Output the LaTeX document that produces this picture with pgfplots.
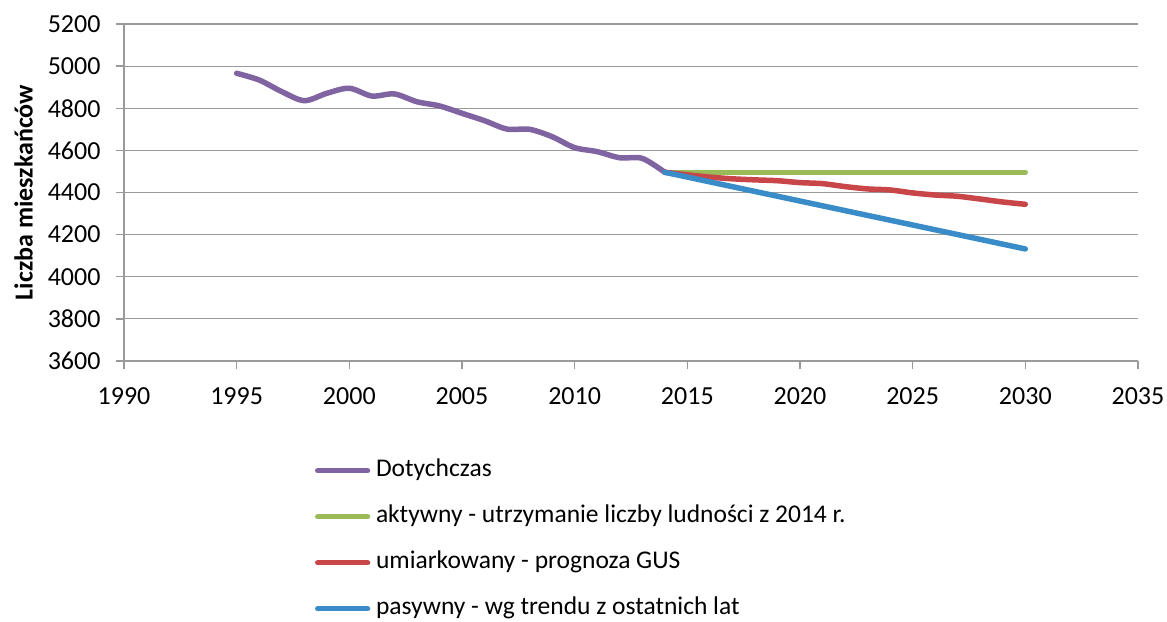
\documentclass[border=0pt]{standalone}
\usepackage{pgfplots}
\pgfplotsset{compat=1.18}
\usepackage{fontspec}
\setmainfont{Carlito}
\definecolor{cpurple}{HTML}{8064A2}
\definecolor{cgreen}{HTML}{9BBB59}
\definecolor{cred}{HTML}{C84548}
\definecolor{cblue}{HTML}{3A8CC8}
\definecolor{cgrid}{HTML}{9A9A9A}
\newcommand{\tickfont}{\fontsize{26bp}{30bp}\selectfont}
\newcommand{\legfont}{\fontsize{25.5bp}{30bp}\selectfont}
\pgfplotstableread{
year val
1995 4966
1996 4934
1997 4879
1998 4836
1999 4871
2000 4895
2001 4858
2002 4868
2003 4831
2004 4811
2005 4776
2006 4741
2007 4701
2008 4700
2009 4665
2010 4613
2011 4594
2012 4565
2013 4562
2014 4496
}\dotych
\pgfplotstableread{
year val
2014 4496
2030 4496
}\aktywny
\pgfplotstableread{
year val
2014 4496
2015 4484
2016 4473
2017 4465
2018 4460
2019 4456
2020 4447
2021 4442
2022 4428
2023 4417
2024 4412
2025 4398
2026 4388
2027 4382
2028 4369
2029 4355
2030 4344
}\umiark
\pgfplotstableread{
year val
2014 4496
2030 4132
}\pasywny
\begin{document}
\begin{tikzpicture}
\useasboundingbox (-124bp,-261bp) rectangle (1043bp,361bp);
\begin{axis}[
  at={(0,0)}, anchor=south west,
  scale only axis, width=1014bp, height=337bp,
  xmin=1990, xmax=2035, ymin=3600, ymax=5200,
  xtick={1990,1995,...,2035}, ytick={3600,3800,...,5200},
  axis x line*=bottom, axis y line*=left,
  axis line style={cgrid, line width=1.3bp},
  ymajorgrids, major grid style={cgrid, line width=1.2bp},
  tick align=outside, major tick length=8bp,
  tick style={cgrid, line width=1.3bp},
  font=\tickfont,
  ticklabel style={font=\tickfont},
  label style={font=\tickfont},
  /pgf/number format/assume math mode=true,
  /pgf/number format/1000 sep={},
  yticklabel style={xshift=-12bp},
  xticklabel style={yshift=-15bp},
  ylabel={\bfseries Liczba mieszkańców},
  ylabel style={at={(axis description cs:-0.0991,0.5)}, anchor=center},
  legend cell align=left,
  legend style={at={(axis description cs:0.1884,-0.290)}, anchor=north west,
    draw=none, fill=none, inner sep=0pt, outer sep=0pt, row sep=22bp, column sep=0pt,
    nodes={inner sep=0pt, text height=18bp, text depth=6bp},
    font=\legfont},
  legend image code/.code={\path[draw=none,fill=none] (0bp,-12bp) rectangle (61bp,12bp); \draw[#1, line width=5.5bp, line cap=round] (2.75bp,0bp) -- (52.5bp,0bp);},
  every axis plot/.append style={line width=5.5bp, line cap=round, line join=round},
]
\addplot[cpurple, smooth, tension=0.5] table[x=year,y=val] {\dotych};
\addlegendentry{Dotychczas}
\addplot[cgreen] table[x=year,y=val] {\aktywny};
\addlegendentry{aktywny - utrzymanie liczby ludności z 2014 r.}
\addplot[cred, smooth, tension=0.5] table[x=year,y=val] {\umiark};
\addlegendentry{umiarkowany - prognoza GUS}
\addplot[cblue] table[x=year,y=val] {\pasywny};
\addlegendentry{pasywny - wg trendu z ostatnich lat}
\end{axis}
\end{tikzpicture}
\end{document}
